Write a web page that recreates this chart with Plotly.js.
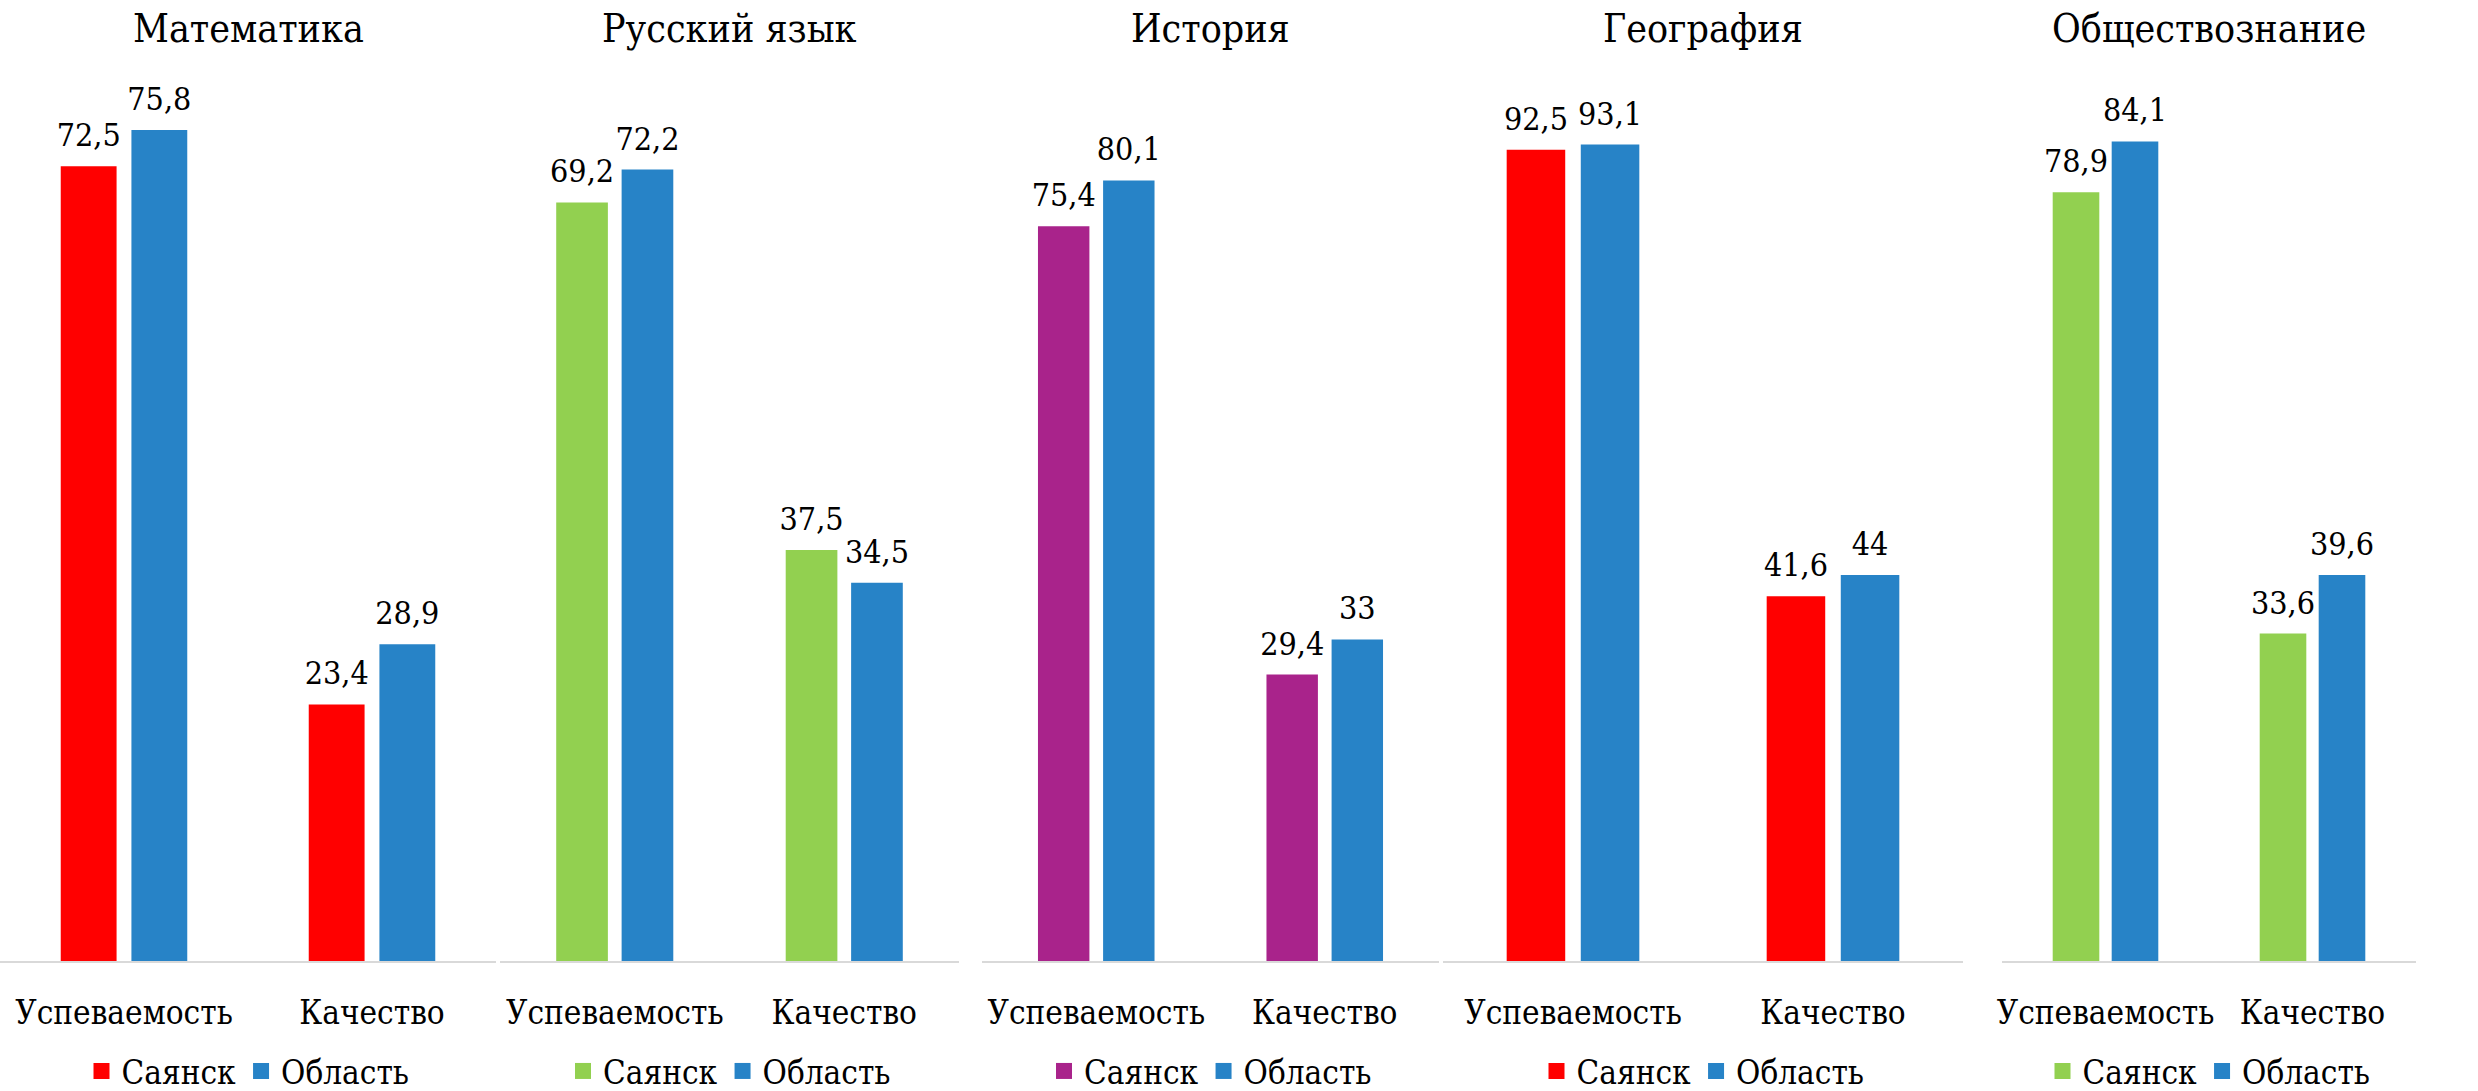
<!DOCTYPE html>
<html>
<head>
<meta charset="utf-8">
<script src="https://cdn.plot.ly/plotly-3.0.1.min.js"></script>
<style>html,body{margin:0;padding:0;background:#fff;}#chart{width:2478px;height:1091px;}</style>
</head>
<body>
<div id="chart"></div>
<script>
// ---- data ----
const categories = ['Успеваемость', 'Качество'];
const subjects = ['Математика', 'Русский язык', 'История', 'География', 'Обществознание'];
const seriesNames = ['Саянск', 'Область'];
const sayanskMath = [72.5, 23.4];
const oblastMath = [75.8, 28.9];
const sayanskRus = [69.2, 37.5];
const oblastRus = [72.2, 34.5];
const sayanskHist = [75.4, 29.4];
const oblastHist = [80.1, 33];
const sayanskGeo = [92.5, 41.6];
const oblastGeo = [93.1, 44];
const sayanskSoc = [78.9, 33.6];
const oblastSoc = [84.1, 39.6];

const sayanskSeries = [sayanskMath, sayanskRus, sayanskHist, sayanskGeo, sayanskSoc];
const oblastSeries = [oblastMath, oblastRus, oblastHist, oblastGeo, oblastSoc];

// ---- style ----
const sayanskColors = ['#FF0000', '#92D050', '#A9238B', '#FF0000', '#92D050'];
const oblastColor = '#2783C7';
const W = 2478, H = 1091;
const panelsPx = [[0, 496], [500, 959], [982, 1439], [1443, 1963], [2002, 2416]];
const plotTop = 84, plotBottom = 961;
const FONT = 'DejaVu Serif Condensed, DejaVu Serif';

const fmt = v => String(v).replace('.', ',');

const traces = [];
const layout = {
  width: W, height: H, autosize: false,
  margin: {l: 0, r: 0, t: 0, b: 0, pad: 0, autoexpand: false},
  paper_bgcolor: '#ffffff', plot_bgcolor: '#ffffff',
  barmode: 'group', bargap: 0.43, bargroupgap: 0.21,
  font: {family: FONT, color: '#000000', size: 33},
  annotations: [],
  hovermode: false
};

subjects.forEach((subj, i) => {
  const n = i + 1;
  const xa = n === 1 ? 'x' : 'x' + n;
  const ya = n === 1 ? 'y' : 'y' + n;
  const lg = n === 1 ? 'legend' : 'legend' + n;
  const s = sayanskSeries[i], o = oblastSeries[i];
  const ymax = Math.ceil(Math.max(...s, ...o) * 1.05 / 10) * 10;

  [[s, sayanskColors[i], seriesNames[0]], [o, oblastColor, seriesNames[1]]].forEach(([vals, col, name]) => {
    traces.push({
      type: 'bar', x: categories, y: vals, name: name,
      xaxis: xa, yaxis: ya, showlegend: false,
      marker: {color: col, line: {width: 0}},
      text: vals.map(fmt), textposition: 'outside', cliponaxis: false,
      constraintext: 'none',
      textfont: {family: FONT, size: 32, color: '#000000'}
    });
  });
  [[sayanskColors[i], seriesNames[0]], [oblastColor, seriesNames[1]]].forEach(([col, name]) => {
    traces.push({
      type: 'scatter', mode: 'markers', x: [null], y: [null], name: name,
      xaxis: xa, yaxis: ya, legend: lg, showlegend: true,
      marker: {symbol: 'square', size: 19, color: col}
    });
  });

  const d0 = panelsPx[i][0] / W, d1 = panelsPx[i][1] / W;
  layout[n === 1 ? 'xaxis' : 'xaxis' + n] = {
    domain: [d0, d1], anchor: ya, type: 'category',
    showline: true, linecolor: '#D9D9D9', linewidth: 2,
    ticks: '', showgrid: false, zeroline: false,
    ticklabelstandoff: 21,
    tickfont: {family: FONT, size: 33, color: '#000000'},
    fixedrange: true
  };
  layout[n === 1 ? 'yaxis' : 'yaxis' + n] = {
    domain: [(H - plotBottom) / H, (H - plotTop) / H], anchor: xa,
    range: [0, ymax], visible: false, showgrid: false, zeroline: false,
    fixedrange: true
  };
  layout[lg] = {
    orientation: 'h', x: (d0 + d1) / 2, xanchor: 'center',
    y: (H - 1071) / H, yanchor: 'middle',
    font: {family: FONT, size: 33, color: '#000000'},
    bgcolor: 'rgba(0,0,0,0)', itemclick: false, itemdoubleclick: false
  };
  layout.annotations.push({
    xref: xa + ' domain', yref: 'paper', x: 0.5, y: (H - 29) / H,
    xanchor: 'center', yanchor: 'middle', showarrow: false,
    text: subj, font: {family: FONT, size: 39, color: '#000000'}
  });
});

Plotly.newPlot('chart', traces, layout, {displayModeBar: false, staticPlot: true}).then(gd => {
  gd.querySelectorAll('.barlayer .point text').forEach(t => {
    const tr = t.getAttribute('transform') || '';
    t.setAttribute('transform', 'translate(0,-9) ' + tr);
  });
});
</script>
</body>
</html>
